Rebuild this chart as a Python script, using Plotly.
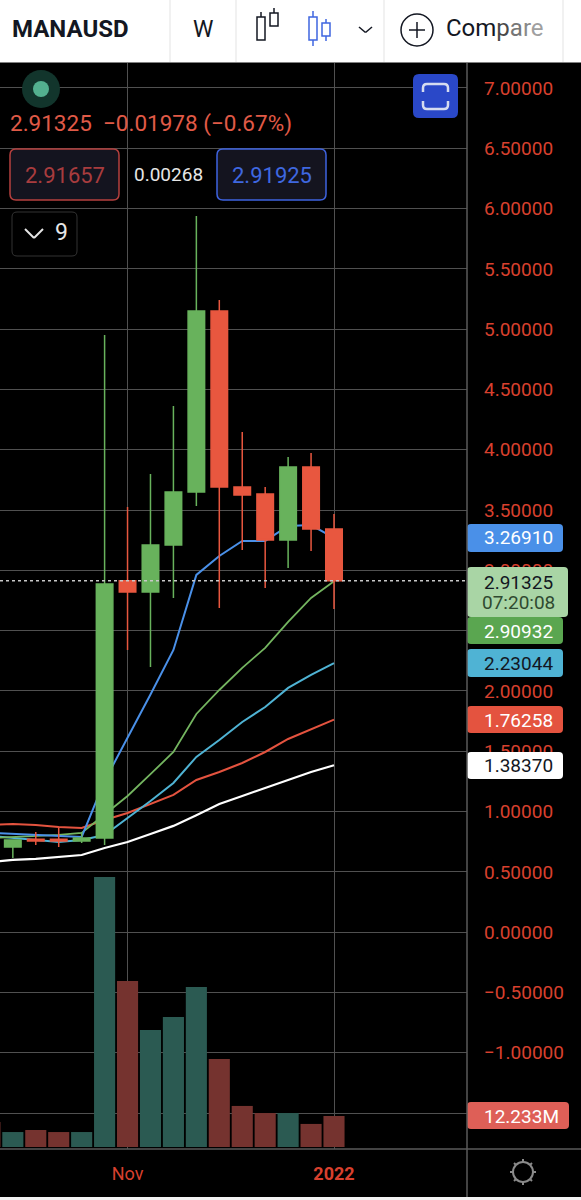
import plotly.graph_objects as go

W, H = 581, 1200
FONT = "Roboto"

# weekly bars, Sep 20 2021 is just off the left edge
dates = ['2021-09-20', '2021-09-27', '2021-10-04', '2021-10-11', '2021-10-18', '2021-10-25', '2021-11-01', '2021-11-08',
         '2021-11-15', '2021-11-22', '2021-11-29', '2021-12-06', '2021-12-13', '2021-12-20', '2021-12-27', '2022-01-03']
opens = [0.78, 0.706, 0.770, 0.770, 0.756, 0.781, 2.913, 2.821, 3.211, 3.650, 5.151, 3.692, 3.633, 3.252, 3.857, 3.343]
highs = [0.80, 0.770, 0.831, 0.864, 0.831, 4.952, 3.526, 3.799, 4.363, 5.939, 5.242, 4.148, 3.692, 3.940, 3.973, 3.468]
lows = [0.70, 0.615, 0.723, 0.706, 0.740, 0.723, 2.340, 2.199, 2.771, 3.534, 2.688, 3.169, 2.854, 3.020, 3.161, 2.680]
closes = [0.72, 0.764, 0.755, 0.755, 0.781, 2.887, 2.821, 3.211, 3.650, 5.151, 3.692, 3.625, 3.252, 3.857, 3.343, 2.91325]
volumes = [9.9, 5.9, 6.7, 5.9, 5.9, 106.5, 65.5, 46.2, 51.3, 63.1, 34.7, 16.2, 13.4, 13.4, 9.1, 12.233]

ma_blue = [0.823, 0.814, 0.806, 0.798, 0.790, 1.254, 1.610, 1.970, 2.340, 2.962, 3.119, 3.244, 3.244, 3.368, 3.376, 3.26910]
ma_green = [0.781, 0.790, 0.798, 0.806, 0.823, 0.980, 1.129, 1.310, 1.494, 1.809, 2.008, 2.191, 2.357, 2.572, 2.771, 2.90932]
ma_cyan = [0.798, 0.781, 0.764, 0.748, 0.764, 0.806, 0.947, 1.088, 1.237, 1.453, 1.594, 1.743, 1.867, 2.025, 2.133, 2.23044]
ma_red = [0.889, 0.897, 0.889, 0.872, 0.864, 0.930, 0.988, 1.060, 1.138, 1.262, 1.328, 1.403, 1.494, 1.602, 1.685, 1.76258]
ma_white = [0.582, 0.599, 0.607, 0.624, 0.640, 0.698, 0.748, 0.814, 0.881, 0.970, 1.063, 1.129, 1.196, 1.262, 1.328, 1.38370]

x_ticks = ['2021-11-01', '2022-01-03']
x_labels = ['Nov', '<b>2022</b>']
# 2.5 and -1.5 sit fully under the badges, so they only get a grid line
y_ticks = [-1.5, -1, -0.5, 0, 0.5, 1, 1.5, 2, 2.5, 3, 3.5, 4, 4.5, 5, 5.5, 6, 6.5, 7]
y_labels = ['', '−1.00000', '−0.50000', '0.00000', '0.50000', '1.00000', '1.50000', '2.00000', '', '3.00000',
            '3.50000', '4.00000', '4.50000', '5.00000', '5.50000', '6.00000', '6.50000', '7.00000']

GREEN = '#68B25C'
RED = '#E8573F'
GRID = '#505050'
TICK_RED = '#D8402E'


def px(x):
    return x / W


def py(y):
    return 1 - y / H


def rrect(x0, y0, x1, y1, r=4):
    # rounded rectangle as an svg path, pixel input
    a, b, c, d = px(x0), py(y0), px(x1), py(y1)
    rx, ry = r / W, r / H
    return (f"M {a + rx} {b} L {c - rx} {b} Q {c} {b} {c} {b - ry} L {c} {d + ry} Q {c} {d} {c - rx} {d} "
            f"L {a + rx} {d} Q {a} {d} {a} {d + ry} L {a} {b - ry} Q {a} {b} {a + rx} {b} Z")


shapes = []
notes = []


def box(x0, y0, x1, y1, fill, line=None, r=4, lw=1):
    shapes.append(dict(type='path', xref='paper', yref='paper', path=rrect(x0, y0, x1, y1, r), fillcolor=fill,
                       line=dict(color=line or fill, width=lw if line else 0)))


def seg(x0, y0, x1, y1, color, lw=1.5):
    shapes.append(dict(type='line', xref='paper', yref='paper', x0=px(x0), y0=py(y0), x1=px(x1), y1=py(y1),
                       line=dict(color=color, width=lw)))


def circle(cx, cy, r, fill, line=None, lw=1.5):
    shapes.append(dict(type='circle', xref='paper', yref='paper', x0=px(cx - r), x1=px(cx + r), y0=py(cy - r), y1=py(cy + r),
                       fillcolor=fill, line=dict(color=line or fill, width=lw if line else 0)))


def note(x, y, text, color, size=19, anchor='center'):
    notes.append(dict(xref='paper', yref='paper', x=px(x), y=py(y), text=text, showarrow=False, xanchor=anchor, yanchor='middle',
                      font=dict(family=FONT, size=size, color=color)))


# toolbar
box(0, 0, W, 62.5, '#FFFFFF', r=0)
for x in [170, 236, 384, 563]:
    seg(x, 0, x, 62, '#E3E3E3', 1)
note(10, 29, '<b>MANAUSD</b>', '#131722', 24, 'left')
note(203, 29, 'W', '#131722', 23)
for x0, x1, y0, y1, w0, w1, col in [(257, 265, 17, 40, 12, 17, '#131722'), (270, 278, 13, 26, 8, 13, '#131722'),
                                    (309, 317, 17, 40, 11, 46, '#3F66E0'), (322, 330, 23, 36, 19, 41, '#3F66E0')]:
    seg((x0 + x1) / 2, w0, (x0 + x1) / 2, w1, col)
    box(x0, y0, x1, y1, '#FFFFFF', col, r=0, lw=1.5)
seg(359, 27, 365.5, 32.5, '#131722')
seg(365.5, 32.5, 372, 27, '#131722')
circle(417, 30, 16, '#FFFFFF', '#131722')
seg(417, 22, 417, 38, '#131722')
seg(409, 30, 425, 30, '#131722')
note(444, 28, 'Com<span style="color:#4A4A4A">p</span><span style="color:#777777">a</span>'
     '<span style="color:#8A8A8A">r</span><span style="color:#A0A0A0">e</span>', '#131722', 24, 'left')

# status widgets on the chart
circle(41, 89, 19, '#12352C')
circle(41, 89, 8, '#53B08F')
note(8, 123, '2.91325  −0.01978 (−0.67%)', '#E05A47', 22.5, 'left')
box(10, 149, 119, 200, '#14141F', '#B5403F', r=6, lw=1.5)
note(64.5, 175, '2.91657', '#A83C3E', 22)
note(168, 174, '0.00268', '#E6E6E6', 19)
box(217, 149, 326, 200, '#14141F', '#3E63E0', r=6, lw=1.5)
note(271.5, 175, '2.91925', '#3F68E0', 22)
box(12, 212, 77, 256, '#000000', '#333333', r=5)
seg(25, 229, 34, 238, '#E6E6E6', 2)
seg(34, 238, 43, 229, '#E6E6E6', 2)
note(61, 232, '9', '#E6E6E6', 23)

# fullscreen button
box(413, 74, 458, 118, '#2A48C8', r=6)
shapes.append(dict(type='path', xref='paper', yref='paper', line=dict(color='#D5DCF0', width=2.5),
                   path=f"M {px(423)} {py(92)} L {px(423)} {py(88)} Q {px(423)} {py(84)} {px(427)} {py(84)} "
                        f"L {px(444)} {py(84)} Q {px(448)} {py(84)} {px(448)} {py(88)} L {px(448)} {py(92)}"))
shapes.append(dict(type='path', xref='paper', yref='paper', line=dict(color='#D5DCF0', width=2.5),
                   path=f"M {px(423)} {py(101)} L {px(423)} {py(105)} Q {px(423)} {py(109)} {px(427)} {py(109)} "
                        f"L {px(444)} {py(109)} Q {px(448)} {py(109)} {px(448)} {py(105)} L {px(448)} {py(101)}"))

# last price line
shapes.append(dict(type='line', xref='paper', yref='y2', x0=0, x1=px(467), y0=closes[-1], y1=closes[-1],
                   line=dict(color='#C8C8C8', width=1.5, dash='dot')))

# price scale badges
box(467, 524, 563, 552, '#4A90E8')
note(518.5, 538, f'{ma_blue[-1]:.5f}', '#FFFFFF')
box(467, 617, 563, 644, '#5AA650')
note(518.5, 631, f'{ma_green[-1]:.5f}', '#FFFFFF')
box(467, 567, 568, 617, '#A9D5A5')
note(518.5, 582, f'{closes[-1]:.5f}', '#131722')
note(518.5, 603, '07:20:08', '#2F4A30')
box(467, 649, 563, 677, '#4FB3D4')
note(518.5, 663, f'{ma_cyan[-1]:.5f}', '#131722')
box(467, 706, 563, 733, '#E4533F')
note(518.5, 720, f'{ma_red[-1]:.5f}', '#FFFFFF')
box(467, 752, 563, 779, '#FFFFFF')
note(518.5, 765, f'{ma_white[-1]:.5f}', '#131722')
box(467, 1102, 569, 1129, '#DE5F57')
note(521.5, 1116, f'{volumes[-1]:.3f}M', '#FFFFFF')

# frame and settings icon
seg(467, 63, 467, 1197, '#5A5A5A', 1.5)
seg(0, 1149, 581, 1149, '#5A5A5A', 1.5)
circle(523, 1172, 10, '#000000', '#8A8A8A', 2)
for x0, y0, x1, y1 in [(523, 1159, 523, 1162), (523, 1182, 523, 1185), (510, 1172, 513, 1172), (533, 1172, 536, 1172),
                       (514, 1163, 516, 1165), (530, 1179, 532, 1181), (532, 1163, 530, 1165), (516, 1179, 514, 1181)]:
    seg(x0, y0, x1, y1, '#8A8A8A', 2)
box(0, 1197, W, H, '#F2F2F2', r=0)

fig = go.Figure()
bar_colors = ['#75332F' if c < o else '#2B5A52' for o, c in zip(opens, closes)]
fig.add_trace(go.Bar(x=dates, y=volumes, marker=dict(color=bar_colors, line=dict(width=0)), yaxis='y'))
for values, color, lw in [(ma_white, '#FFFFFF', 2.2), (ma_red, '#E4533F', 2), (ma_cyan, '#4FB3D4', 2), (ma_green, '#74B560', 1.8), (ma_blue, '#4A90E8', 2)]:
    fig.add_trace(go.Scatter(x=dates, y=values, mode='lines', yaxis='y2', line=dict(color=color, width=lw)))
# candles on their own overlay so they cover the averages
fig.add_trace(go.Candlestick(x=dates, open=opens, high=highs, low=lows, close=closes, yaxis='y3', whiskerwidth=0,
                             increasing=dict(line=dict(color=GREEN, width=1.5), fillcolor=GREEN),
                             decreasing=dict(line=dict(color=RED, width=1.5), fillcolor=RED)))

price_domain = [1 - 1149 / H, 1 - 63 / H]
price_range = [-1.798, 7.207]
fig.update_layout(
    width=W, height=H,
    margin=dict(l=0, r=0, t=0, b=0),
    paper_bgcolor='#000000', plot_bgcolor='#000000',
    showlegend=False,
    bargap=0.08, boxgap=0.28, boxgroupgap=0,
    font=dict(family=FONT),
    shapes=shapes, annotations=notes,
    xaxis=dict(domain=[0, 467 / W], range=['2021-09-23 02:00', '2022-02-12 14:00'], type='date',
               rangeslider=dict(visible=False), tickvals=x_ticks, ticktext=x_labels, tickangle=0,
               showgrid=True, gridcolor=GRID, gridwidth=1, zeroline=False, showline=False,
               ticks='', ticklabelstandoff=12, tickfont=dict(family=FONT, size=18, color=TICK_RED)),
    yaxis=dict(domain=price_domain, range=[-0.79, 427.7], visible=False, showgrid=False, zeroline=False),
    yaxis2=dict(domain=price_domain, overlaying='y', side='right', anchor='x', range=price_range,
                tickvals=y_ticks, ticktext=y_labels, showgrid=True, gridcolor=GRID, gridwidth=1, zeroline=False,
                showline=False, ticks='', ticklabelstandoff=16, tickfont=dict(family=FONT, size=19, color=TICK_RED)),
    yaxis3=dict(domain=price_domain, overlaying='y', side='right', anchor='x', range=price_range,
                visible=False, showgrid=False, zeroline=False),
)

fig.write_html("out.html", config=dict(displayModeBar=False), post_script="document.body.style.margin='0';")
